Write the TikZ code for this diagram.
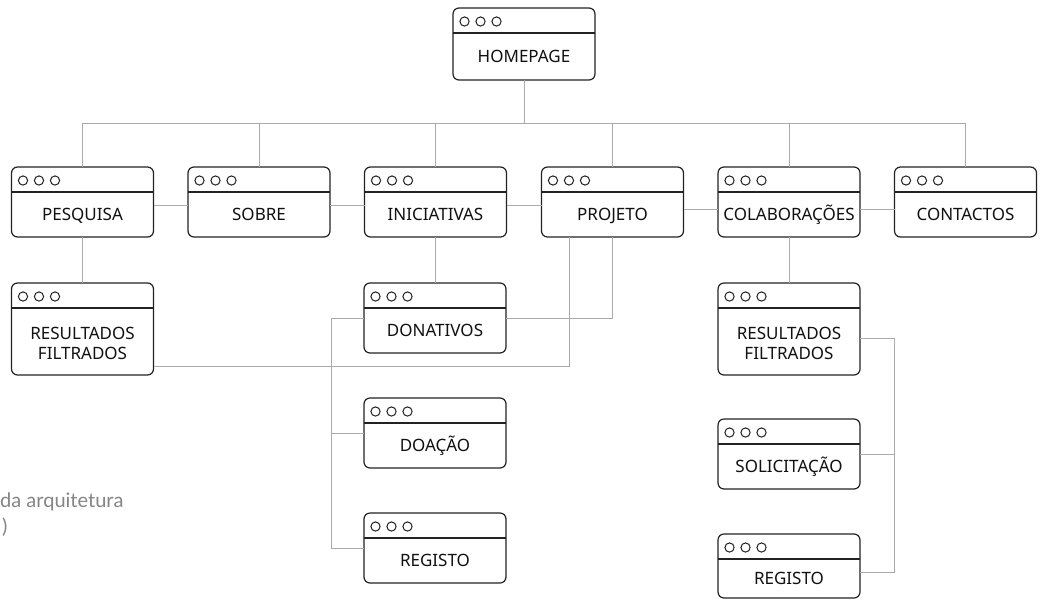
\documentclass[tikz,border=0pt]{standalone}
\usepackage{fontspec}
\setmainfont{Noto Sans}
\newfontfamily\legendafont{Lato}
\usetikzlibrary{calc}

\definecolor{linha}{HTML}{ABABAB}
\definecolor{borda}{HTML}{222222}
\definecolor{texto}{HTML}{111111}
\definecolor{cinza}{HTML}{858585}

% janela de pagina: nome, centro x, topo y, altura, rotulo
\newcommand{\janela}[5]{%
  \node[pagina, minimum height=#4pt] (#1) at (#2,#3+#4/2) {};
  \draw[barra] ([yshift=-25pt]#1.north west) -- ([yshift=-25pt]#1.north east);
  \foreach \k in {0,1,2}
    \draw[bolinha] ([xshift=11.5pt+\k*16pt, yshift=-13.5pt]#1.north west) circle[radius=4.6pt];
  \node[rotulo] (#1-txt) at ([yshift=-12.5pt]#1.center) {\vphantom{ÇÕ}#5};
}

\begin{document}
\begin{tikzpicture}[x=1pt, y=-1pt,
    pagina/.style={draw=borda, line width=1.2pt, fill=white, rounded corners=6pt,
                   minimum width=142pt, inner sep=0pt, outer sep=0pt},
    barra/.style={draw=borda, line width=1.2pt},
    bolinha/.style={draw=borda, line width=1pt},
    rotulo/.style={text=texto, align=center, inner sep=0pt,
                   font=\fontsize{17}{20}\selectfont},
    ligacao/.style={draw=linha, line width=0.9pt},
    legenda/.style={text=cinza, inner sep=0pt, anchor=base west,
                    font=\legendafont\fontsize{20}{24}\selectfont}]
    \useasboundingbox (0,0) rectangle (1040,600);

    % paginas
    \janela{home}{524}{8}{72}{HOMEPAGE}
    \janela{pesquisa}{82.5}{167}{70}{PESQUISA}
    \janela{sobre}{259}{167}{70}{SOBRE}
    \janela{iniciativas}{435.5}{167}{70}{INICIATIVAS}
    \janela{projeto}{612.5}{167}{70}{PROJETO}
    \janela{colab}{789}{167}{70}{COLABORAÇÕES}
    \janela{contactos}{965.5}{167}{70}{CONTACTOS}
    \janela{resultA}{82.5}{283}{92}{RESULTADOS\\FILTRADOS}
    \janela{donativos}{435}{283}{70}{DONATIVOS}
    \janela{doacao}{435}{398}{70}{DOAÇÃO}
    \janela{registoA}{435}{513}{70}{REGISTO}
    \janela{resultB}{789}{283}{92}{RESULTADOS\\FILTRADOS}
    \janela{solicitacao}{789}{419}{70}{SOLICITAÇÃO}
    \janela{registoB}{789}{534}{64}{REGISTO}

    % ligacoes
    \foreach \n in {pesquisa,sobre,iniciativas,projeto,colab,contactos}
        \draw[ligacao] (home.south) -- ++(0,43) -| (\n.north);
    \draw[ligacao] ([yshift=-3pt]pesquisa.east) -- ([yshift=-3pt]sobre.west);
    \draw[ligacao] ([yshift=-3pt]sobre.east) -- ([yshift=-3pt]iniciativas.west);
    \draw[ligacao] ([yshift=-3pt]iniciativas.east) -- ([yshift=-3pt]projeto.west);
    \draw[ligacao] ([yshift=-7pt]projeto.east) -- ([yshift=-7pt]colab.west);
    \draw[ligacao] ([yshift=-7pt]colab.east) -- ([yshift=-7pt]contactos.west);
    \draw[ligacao] (pesquisa.south) -- (resultA.north);
    \draw[ligacao] (iniciativas.south) -- (iniciativas.south |- donativos.north);
    \draw[ligacao] (colab.south) -- (resultB.north);
    \draw[ligacao] (projeto.south) |- (donativos.east);
    \draw[ligacao] ([xshift=-43.5pt]projeto.south) |- ([yshift=9pt]resultA.south east);
    \draw[ligacao] (donativos.west) -- ++(-33,0) |- (doacao.west);
    \draw[ligacao] (donativos.west) -- ++(-33,0) |- (registoA.west);
    \draw[ligacao] ([yshift=-9pt]resultB.east) -- ++(34,0) |- (solicitacao.east);
    \draw[ligacao] ([yshift=-9pt]resultB.east) -- ++(34,0) |- ([yshift=-6pt]registoB.east);

    % legenda
    \node[legenda] (leg1) at (0,507) {da arquitetura};
    \node[legenda] (leg2) at (2,533) {)};
\end{tikzpicture}
\end{document}
